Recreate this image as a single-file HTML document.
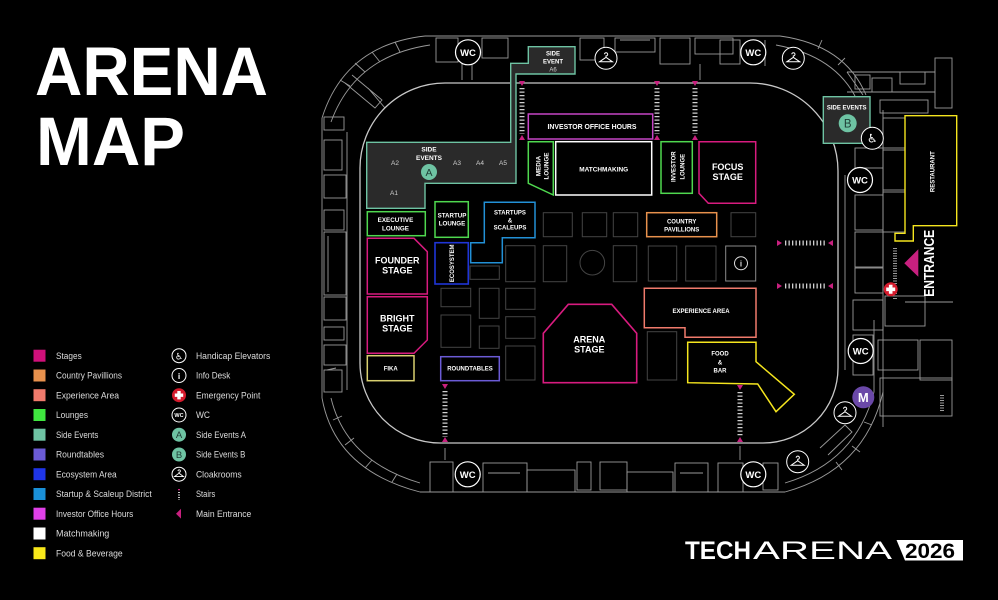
<!DOCTYPE html>
<html><head><meta charset="utf-8"><style>
html,body{margin:0;padding:0;background:#000;}
svg{display:block;}
text{font-family:"Liberation Sans",Arial,sans-serif;}
</style></head><body>
<svg width="998" height="600" viewBox="0 0 998 600" xmlns="http://www.w3.org/2000/svg">
<rect width="998" height="600" fill="#000"/>

<!-- Title -->
<text x="35" y="95" font-size="69" font-weight="bold" fill="#fff" textLength="233" lengthAdjust="spacingAndGlyphs">ARENA</text>
<text x="36" y="165" font-size="69" font-weight="bold" fill="#fff" textLength="149" lengthAdjust="spacingAndGlyphs">MAP</text>

<!-- Architecture -->
<g stroke="#9a9a9a" stroke-width="0.9" fill="none">
  <!-- outer ring -->
  <path d="M 425 36 L 780 36"/>
  <path d="M 425 36 Q 345 45 322 118"/>
  <path d="M 430 45 Q 355 56 331 122"/>
  <path d="M 322 118 L 322 398"/>
  <path d="M 347 132 L 347 390"/>
  <path d="M 322 398 Q 335 470 420 492"/>
  <path d="M 331 398 Q 346 461 420 483"/>
  <path d="M 420 492 L 785 492"/>
  <path d="M 785 492 Q 865 470 883 392"/>
  <path d="M 785 483 Q 856 462 874 392"/>
  <path d="M 780 36 Q 845 45 866 95"/>
  <path d="M 776 45 Q 836 56 857 100"/>
  <path d="M 845 175 L 845 370"/>
  <path d="M 874 392 L 874 320"/>
  <!-- ticks on arcs -->
  <path d="M 340 80 L 350 86 M 355 63 L 365 72 M 372 52 L 380 62 M 395 42 L 400 52 M 327 370 L 336 368 M 333 420 L 342 416 M 345 445 L 354 438 M 365 468 L 372 460 M 392 482 L 397 474 M 842 470 L 836 462 M 860 452 L 852 446 M 872 425 L 864 422 M 822 40 L 818 49 M 845 58 L 838 65"/>
  <path d="M 352 75 L 382 100 L 375 108 L 345 83 M 368 88 L 385 108"/>
  <path d="M 820 448 L 845 425 L 852 432 L 828 455"/>
  <!-- left band rooms -->
  <rect x="324" y="117" width="20" height="13"/>
  <rect x="324" y="140" width="18" height="30"/>
  <rect x="324" y="175" width="22" height="23"/>
  <rect x="324" y="210" width="20" height="20"/>
  <rect x="324" y="232" width="22" height="63"/>
  <path d="M 328 236 L 328 292"/>
  <rect x="324" y="297" width="22" height="23"/>
  <rect x="324" y="327" width="20" height="13"/>
  <rect x="324" y="345" width="22" height="20"/>
  <rect x="324" y="370" width="18" height="22"/>
  <!-- top band rooms -->
  <rect x="436" y="38" width="22" height="24"/>
  <rect x="482" y="38" width="26" height="20"/>
  <path d="M 462 60 L 462 80 M 472 62 L 472 80"/>
  <rect x="580" y="38" width="24" height="22"/>
  <rect x="615" y="38" width="40" height="14"/>
  <path d="M 620 40 L 650 40"/>
  <rect x="660" y="38" width="30" height="26"/>
  <rect x="695" y="38" width="38" height="16"/>
  <rect x="720" y="40" width="20" height="24"/>
  <path d="M 700 64 L 700 80 M 765 40 L 765 66"/>
  <!-- bottom band rooms -->
  <rect x="430" y="462" width="23" height="30"/>
  <path d="M 445 448 L 445 460"/>
  <rect x="483" y="463" width="44" height="29"/>
  <path d="M 488 473 L 520 473"/>
  <rect x="527" y="470" width="48" height="22"/>
  <rect x="577" y="462" width="14" height="28"/>
  <rect x="600" y="462" width="27" height="28"/>
  <rect x="627" y="472" width="46" height="20"/>
  <rect x="675" y="463" width="33" height="29"/>
  <path d="M 680 473 L 703 473"/>
  <rect x="718" y="463" width="25" height="29"/>
  <rect x="763" y="463" width="15" height="27"/>
  <path d="M 740 446 L 740 460"/>
  <!-- right building -->
  <path d="M 847 72 L 935 72 M 847 92 L 935 92 M 847 72 L 863 95"/>
  <rect x="855" y="75" width="15" height="14"/>
  <rect x="872" y="78" width="20" height="14"/>
  <rect x="900" y="72" width="25" height="12"/>
  <rect x="935" y="58" width="17" height="50"/>
  <rect x="880" y="100" width="48" height="13"/>
  <path d="M 883 110 L 883 427"/>
  <rect x="855" y="148" width="28" height="20"/>
  <rect x="855" y="195" width="28" height="35"/>
  <rect x="855" y="232" width="28" height="35"/>
  <rect x="855" y="268" width="28" height="25"/>
  <rect x="883" y="118" width="22" height="30"/>
  <rect x="883" y="150" width="22" height="40"/>
  <rect x="883" y="192" width="22" height="40"/>
  <path d="M 895 248 L 895 300" stroke-dasharray="1 1.5" stroke-width="4"/>
  <rect x="853" y="300" width="30" height="30"/>
  <rect x="885" y="296" width="40" height="30"/>
  <path d="M 905 302 L 953 302"/>
  <rect x="853" y="335" width="20" height="40"/>
  <rect x="878" y="340" width="40" height="30"/>
  <rect x="920" y="340" width="32" height="40"/>
  <rect x="880" y="378" width="72" height="38"/>
  <path d="M 942 395 L 942 412" stroke-dasharray="1 1.5" stroke-width="4"/>
</g>

<!-- Inner arena boundary -->
<path d="M 450 83 L 750 83 A 88 88 0 0 1 838 171 L 838 368 A 75 75 0 0 1 763 443 L 440 443 A 80 80 0 0 1 360 363 L 360 168 A 85 85 0 0 1 445 83 Z" fill="none" stroke="#c8c8c8" stroke-width="1.3"/>

<!-- Empty gray boxes -->
<g fill="none" stroke="#444" stroke-width="1">
  <rect x="543.3" y="212.7" width="29" height="24"/>
  <rect x="582.3" y="212.7" width="24.4" height="24"/>
  <rect x="613.3" y="212.7" width="24.4" height="24"/>
  <rect x="731" y="212.7" width="24.7" height="24"/>
  <rect x="470" y="266" width="29.3" height="13.3"/>
  <rect x="505.7" y="245.7" width="29.3" height="36"/>
  <rect x="543.3" y="245.7" width="23.4" height="36"/>
  <circle cx="592.3" cy="262.7" r="12.3"/>
  <rect x="613.3" y="245.7" width="23.4" height="36"/>
  <rect x="648.3" y="246" width="28.4" height="35"/>
  <rect x="685.7" y="246" width="30.3" height="35"/>
  <rect x="441" y="288.3" width="29.7" height="18.4"/>
  <rect x="479.3" y="288.3" width="19.7" height="30"/>
  <rect x="505.7" y="288.3" width="29.3" height="21"/>
  <rect x="441" y="315" width="29.7" height="32.3"/>
  <rect x="479.3" y="326" width="19.7" height="22.3"/>
  <rect x="505.7" y="316.7" width="29.3" height="21.6"/>
  <rect x="505.7" y="346" width="29.3" height="34"/>
  <rect x="647.3" y="331.7" width="29.4" height="48.3"/>
</g>
<rect x="725.7" y="246" width="30" height="35" fill="none" stroke="#8a8a8a" stroke-width="1"/>
<circle cx="741" cy="263.3" r="6.5" fill="none" stroke="#ddd" stroke-width="1"/>
<text x="741" y="266.5" text-anchor="middle" font-size="8" font-weight="bold" fill="#ddd">i</text>

<!-- Side Events A -->
<polygon points="366.7,142.3 510.7,142.3 510.7,63.3 528.3,63.3 528.3,46.7 575,46.7 575,74 516,74 516,183.3 425,183.3 425,208.3 366.7,208.3" fill="#2a2a2a" stroke="#6ec3a3" stroke-width="1.4"/>
<g font-weight="bold" fill="#fff" font-size="6" text-anchor="middle">
  <text x="553" y="55.5">SIDE</text>
  <text x="553" y="63.5">EVENT</text>
  <text x="429" y="151.5" font-size="6.5">SIDE</text>
  <text x="429" y="160" font-size="6.5">EVENTS</text>
</g>
<g fill="#cfcfcf" font-size="6.5" text-anchor="middle">
  <text x="553" y="71.5" font-size="6">A6</text>
  <text x="395" y="165">A2</text>
  <text x="394" y="195">A1</text>
  <text x="457" y="165">A3</text>
  <text x="480" y="165">A4</text>
  <text x="503" y="165">A5</text>
</g>
<circle cx="429" cy="172" r="8" fill="#6ec3a3"/>
<text x="429" y="175.8" text-anchor="middle" font-size="10.5" fill="#1f3d35">A</text>

<!-- Investor office hours -->
<rect x="528.3" y="114" width="124.4" height="25" fill="none" stroke="#c646c6" stroke-width="1.5"/>
<text x="592" y="129" text-anchor="middle" font-size="7.5" font-weight="bold" fill="#fff" textLength="89" lengthAdjust="spacingAndGlyphs">INVESTOR OFFICE HOURS</text>

<!-- Matchmaking -->
<rect x="555.7" y="141.7" width="96" height="53.3" fill="none" stroke="#fff" stroke-width="1.5"/>
<text x="603.7" y="171.5" text-anchor="middle" font-size="6.5" font-weight="bold" fill="#fff" textLength="49" lengthAdjust="spacingAndGlyphs">MATCHMAKING</text>

<!-- Media lounge -->
<polygon points="528.3,141.7 553.3,141.7 553.3,195 528.3,183.3" fill="none" stroke="#4fd84f" stroke-width="1.5"/>
<g font-weight="bold" fill="#fff" font-size="6.3" text-anchor="middle">
  <text transform="translate(538.5,166) rotate(-90)" y="2.2">MEDIA</text>
  <text transform="translate(546.5,166) rotate(-90)" y="2.2">LOUNGE</text>
</g>

<!-- Investor lounge -->
<rect x="661" y="141.7" width="31.3" height="51.6" fill="none" stroke="#4fd84f" stroke-width="1.5"/>
<g font-weight="bold" fill="#fff" font-size="6" text-anchor="middle">
  <text transform="translate(673.3,166.7) rotate(-90)" y="2.2">INVESTOR</text>
  <text transform="translate(682.3,166.7) rotate(-90)" y="2.2">LOUNGE</text>
</g>

<!-- Focus stage -->
<polygon points="699,141.7 755.7,141.7 755.7,203.3 708.3,203.3 699,193.3" fill="none" stroke="#d81b7f" stroke-width="1.5"/>
<g font-weight="bold" fill="#fff" font-size="9" text-anchor="middle">
  <text x="727.7" y="170">FOCUS</text>
  <text x="727.7" y="180">STAGE</text>
</g>

<!-- Country pavillions -->
<rect x="646.7" y="212.7" width="70" height="24" fill="none" stroke="#e8914d" stroke-width="1.5"/>
<g font-weight="bold" fill="#fff" font-size="6" text-anchor="middle">
  <text x="681.7" y="223.5">COUNTRY</text>
  <text x="681.7" y="231.5">PAVILLIONS</text>
</g>

<!-- Executive lounge -->
<rect x="367.3" y="211.7" width="58" height="24" fill="none" stroke="#4fd84f" stroke-width="1.5"/>
<g font-weight="bold" fill="#fff" font-size="6.3" text-anchor="middle">
  <text x="395.5" y="222">EXECUTIVE</text>
  <text x="395.5" y="230.5">LOUNGE</text>
</g>

<!-- Startup lounge -->
<rect x="435" y="201.7" width="33.3" height="35.6" fill="none" stroke="#4fd84f" stroke-width="1.5"/>
<g font-weight="bold" fill="#fff" font-size="6.2" text-anchor="middle">
  <text x="452" y="217.5">STARTUP</text>
  <text x="452" y="225.5">LOUNGE</text>
</g>

<!-- Startups & scaleups -->
<polygon points="484.3,202.3 535,202.3 535,237.7 502.3,237.7 502.3,262.7 470.7,262.7 470.7,242.7 484.3,242.7" fill="none" stroke="#2290d6" stroke-width="1.5"/>
<g font-weight="bold" fill="#fff" font-size="6" text-anchor="middle">
  <text x="510" y="214.5">STARTUPS</text>
  <text x="510" y="222.3">&amp;</text>
  <text x="510" y="229.3">SCALEUPS</text>
</g>

<!-- Ecosystem -->
<rect x="435" y="242.7" width="33.3" height="41.3" fill="none" stroke="#1f35d6" stroke-width="1.6"/>
<text transform="translate(452,263.3) rotate(-90)" y="2.2" text-anchor="middle" font-size="6" font-weight="bold" fill="#fff">ECOSYSTEM</text>

<!-- Founder stage -->
<polygon points="367.3,238.3 414,238.3 427.3,251.7 427.3,294 367.3,294" fill="none" stroke="#d81b7f" stroke-width="1.5"/>
<!-- Bright stage -->
<polygon points="367.3,296.7 427.3,296.7 427.3,340 414,353.3 367.3,353.3" fill="none" stroke="#d81b7f" stroke-width="1.5"/>
<g font-weight="bold" fill="#fff" font-size="9" text-anchor="middle">
  <text x="397.3" y="263.7">FOUNDER</text>
  <text x="397.3" y="273.7">STAGE</text>
  <text x="397.3" y="321.7">BRIGHT</text>
  <text x="397.3" y="331.7">STAGE</text>
</g>

<!-- Fika -->
<rect x="367.3" y="355.7" width="46.7" height="25" fill="none" stroke="#d9d070" stroke-width="1.5"/>
<text x="390.7" y="370.3" text-anchor="middle" font-size="6" font-weight="bold" fill="#fff">FIKA</text>

<!-- Roundtables -->
<rect x="440.7" y="356.7" width="58.6" height="24" fill="none" stroke="#6b5bd6" stroke-width="1.5"/>
<text x="470" y="370.7" text-anchor="middle" font-size="6" font-weight="bold" fill="#fff">ROUNDTABLES</text>

<!-- Arena stage -->
<polygon points="568.3,304.3 611.7,304.3 636.7,333.3 636.7,382.7 543.3,382.7 543.3,333.3" fill="none" stroke="#d81b7f" stroke-width="1.6"/>
<g font-weight="bold" fill="#fff" font-size="9" text-anchor="middle">
  <text x="589.3" y="342.5">ARENA</text>
  <text x="589.3" y="352.5">STAGE</text>
</g>

<!-- Experience area -->
<polygon points="644.3,288.3 756,288.3 756,337.3 685,337.3 685,327.7 644.3,327.7" fill="none" stroke="#f07a6c" stroke-width="1.5"/>
<text x="701" y="313" text-anchor="middle" font-size="6" font-weight="bold" fill="#fff">EXPERIENCE AREA</text>

<!-- Food & bar -->
<polygon points="687.7,342.3 756,342.3 756,361.7 794.3,394.3 776,411.7 757.7,384 687.7,382.7" fill="none" stroke="#f5e51e" stroke-width="1.5"/>
<g font-weight="bold" fill="#fff" font-size="6" text-anchor="middle">
  <text x="720" y="355.5">FOOD</text>
  <text x="720" y="364.3">&amp;</text>
  <text x="720" y="372.5">BAR</text>
</g>

<!-- Side Events B -->
<rect x="823.3" y="96.7" width="46.7" height="46.6" fill="#2a2a2a" stroke="#6ec3a3" stroke-width="1.4"/>
<text x="846.7" y="109.5" text-anchor="middle" font-size="6" font-weight="bold" fill="#fff">SIDE EVENTS</text>
<circle cx="847.7" cy="123.3" r="9" fill="#6ec3a3"/>
<text x="847.7" y="127.5" text-anchor="middle" font-size="11.5" fill="#1f3d35">B</text>

<!-- Restaurant -->
<polygon points="905,115.7 956.7,115.7 956.7,225.7 913.3,225.7 913.3,241 895,241 895,233.3 905,233.3" fill="#000" stroke="#f5e51e" stroke-width="1.4"/>
<text transform="translate(932.7,171.7) rotate(-90)" y="2" text-anchor="middle" font-size="6" font-weight="bold" fill="#fff">RESTAURANT</text>

<!-- Entrance -->
<text transform="translate(928.3,263.3) rotate(-90)" y="5.5" text-anchor="middle" font-size="15" font-weight="bold" fill="#fff" textLength="67" lengthAdjust="spacingAndGlyphs">ENTRANCE</text>
<polygon points="918.3,249.3 918.3,276.7 904.3,263.3" fill="#c8207f"/>

<!-- Stairs -->
<g stroke="#cfcfcf" stroke-width="5" stroke-dasharray="1.3 2.2" fill="none">
  <path d="M 522 88 L 522 134"/>
  <path d="M 657 88 L 657 134"/>
  <path d="M 695 88 L 695 134"/>
  <path d="M 445 391 L 445 437"/>
  <path d="M 740 392 L 740 437"/>
  <path d="M 785 243 L 826 243"/>
  <path d="M 785 286 L 826 286"/>
</g>
<g fill="#c8207f">
  <polygon points="519,81 525,81 522,86"/>
  <polygon points="519,140 525,140 522,135"/>
  <polygon points="654,81 660,81 657,86"/>
  <polygon points="654,140 660,140 657,135"/>
  <polygon points="692,81 698,81 695,86"/>
  <polygon points="692,140 698,140 695,135"/>
  <polygon points="442,384 448,384 445,389"/>
  <polygon points="442,442 448,442 445,437"/>
  <polygon points="737,385 743,385 740,390"/>
  <polygon points="737,442 743,442 740,437"/>
  <polygon points="777,240 777,246 782,243"/>
  <polygon points="833,240 833,246 828,243"/>
  <polygon points="777,283 777,289 782,286"/>
  <polygon points="833,283 833,289 828,286"/>
</g>

<!-- WC circles -->
<g fill="#000" stroke="#fff" stroke-width="1.2">
  <circle cx="468" cy="52.3" r="12.5"/>
  <circle cx="753.3" cy="52.3" r="12.5"/>
  <circle cx="860" cy="180" r="12.5"/>
  <circle cx="860.7" cy="351" r="12.5"/>
  <circle cx="753.3" cy="474.3" r="12.5"/>
  <circle cx="467.7" cy="474.3" r="12.5"/>
</g>
<g font-weight="bold" fill="#fff" font-size="9.5" text-anchor="middle">
  <text x="468" y="55.8">WC</text>
  <text x="753.3" y="55.8">WC</text>
  <text x="860" y="183.5">WC</text>
  <text x="860.7" y="354.5">WC</text>
  <text x="753.3" y="477.8">WC</text>
  <text x="467.7" y="477.8">WC</text>
</g>

<!-- Hangers -->
<g fill="#000" stroke="#fff" stroke-width="1">
  <circle cx="606" cy="58.3" r="11"/>
  <circle cx="793.3" cy="58.3" r="11"/>
  <circle cx="845" cy="412.7" r="11"/>
  <circle cx="797.7" cy="461.7" r="11"/>
</g>
<g fill="none" stroke="#fff" stroke-width="1">
  <path d="M 604.5 54.3 a 1.6 1.6 0 1 1 1.5 1.6 v 1.4 M 606 57.3 L 599.5 61.8 L 612.5 61.8 Z"/>
  <path d="M 791.8 54.3 a 1.6 1.6 0 1 1 1.5 1.6 v 1.4 M 793.3 57.3 L 786.8 61.8 L 799.8 61.8 Z"/>
  <path d="M 843.5 408.7 a 1.6 1.6 0 1 1 1.5 1.6 v 1.4 M 845 411.7 L 838.5 416.2 L 851.5 416.2 Z"/>
  <path d="M 796.2 457.7 a 1.6 1.6 0 1 1 1.5 1.6 v 1.4 M 797.7 460.7 L 791.2 465.2 L 804.2 465.2 Z"/>
</g>

<!-- Handicap -->
<circle cx="872.3" cy="138.3" r="11" fill="#000" stroke="#fff" stroke-width="1"/>
<text x="872.3" y="142.5" text-anchor="middle" font-size="12" fill="#fff" style="font-family:'DejaVu Sans',sans-serif">♿</text>

<!-- Emergency -->
<circle cx="890.7" cy="289.3" r="7" fill="#d41a2c"/>
<path d="M 888.9 284.8 h 3.6 v 2.7 h 2.7 v 3.6 h -2.7 v 2.7 h -3.6 v -2.7 h -2.7 v -3.6 h 2.7 Z" fill="#fff"/>

<!-- Metro -->
<circle cx="863.3" cy="397.3" r="11" fill="#6a48a8"/>
<text x="863.3" y="402" text-anchor="middle" font-size="13" font-weight="bold" fill="#fff">M</text>

<!-- Legend column 1 -->
<g>
  <rect x="33.5" y="349.7" width="12" height="12" fill="#d0107a"/>
  <rect x="33.5" y="369.5" width="12" height="12" fill="#e8914d"/>
  <rect x="33.5" y="389.2" width="12" height="12" fill="#f07a6c"/>
  <rect x="33.5" y="409" width="12" height="12" fill="#3fe63f"/>
  <rect x="33.5" y="428.7" width="12" height="12" fill="#6ec3a3"/>
  <rect x="33.5" y="448.5" width="12" height="12" fill="#6b5bd6"/>
  <rect x="33.5" y="468.2" width="12" height="12" fill="#1f35e8"/>
  <rect x="33.5" y="488" width="12" height="12" fill="#1a90d8"/>
  <rect x="33.5" y="507.7" width="12" height="12" fill="#e040e8"/>
  <rect x="33.5" y="527.5" width="12" height="12" fill="#ffffff"/>
  <rect x="33.5" y="547.2" width="12" height="12" fill="#f8e81a"/>
</g>
<g fill="#dcdcdc" font-size="9">
  <text x="56" y="358.9" textLength="25.7" lengthAdjust="spacingAndGlyphs">Stages</text>
  <text x="56" y="378.7" textLength="66" lengthAdjust="spacingAndGlyphs">Country Pavillions</text>
  <text x="56" y="398.4" textLength="63" lengthAdjust="spacingAndGlyphs">Experience Area</text>
  <text x="56" y="418.2" textLength="32" lengthAdjust="spacingAndGlyphs">Lounges</text>
  <text x="56" y="437.9" textLength="42.3" lengthAdjust="spacingAndGlyphs">Side Events</text>
  <text x="56" y="457.7" textLength="48" lengthAdjust="spacingAndGlyphs">Roundtables</text>
  <text x="56" y="477.4" textLength="60.7" lengthAdjust="spacingAndGlyphs">Ecosystem Area</text>
  <text x="56" y="497.2" textLength="95.7" lengthAdjust="spacingAndGlyphs">Startup &amp; Scaleup District</text>
  <text x="56" y="516.9" textLength="77.3" lengthAdjust="spacingAndGlyphs">Investor Office Hours</text>
  <text x="56" y="536.7" textLength="53.3" lengthAdjust="spacingAndGlyphs">Matchmaking</text>
  <text x="56" y="556.4" textLength="66.7" lengthAdjust="spacingAndGlyphs">Food &amp; Beverage</text>
</g>

<!-- Legend column 2 icons -->
<circle cx="179" cy="355.7" r="7" fill="#000" stroke="#fff" stroke-width="1"/>
<text x="179" y="359.3" text-anchor="middle" font-size="9" fill="#fff" style="font-family:'DejaVu Sans',sans-serif">♿</text>
<circle cx="179" cy="375.5" r="7" fill="#000" stroke="#fff" stroke-width="1"/>
<text x="179" y="378.8" text-anchor="middle" font-size="8.5" font-weight="bold" fill="#fff">i</text>
<circle cx="179" cy="395.2" r="7" fill="#d41a2c"/>
<path d="M 177.3 391 h 3.4 v 2.5 h 2.5 v 3.4 h -2.5 v 2.5 h -3.4 v -2.5 h -2.5 v -3.4 h 2.5 Z" fill="#fff"/>
<circle cx="179" cy="415" r="7" fill="#000" stroke="#fff" stroke-width="1"/>
<text x="179" y="417.2" text-anchor="middle" font-size="5.5" font-weight="bold" fill="#fff">WC</text>
<circle cx="179" cy="434.7" r="7" fill="#6ec3a3"/>
<text x="179" y="438.2" text-anchor="middle" font-size="9.5" fill="#1f3d35">A</text>
<circle cx="179" cy="454.5" r="7" fill="#6ec3a3"/>
<text x="179" y="458" text-anchor="middle" font-size="9.5" fill="#1f3d35">B</text>
<circle cx="179" cy="474.2" r="7" fill="#000" stroke="#fff" stroke-width="1"/>
<path d="M 178 471 a 1.2 1.2 0 1 1 1 1.2 v 1 M 179 473.2 L 174.5 476.6 L 183.5 476.6 Z" fill="none" stroke="#fff" stroke-width="0.9"/>
<path d="M 179 489 L 179 490.3" stroke="#c8207f" stroke-width="2"/>
<path d="M 179 492 L 179 500" stroke="#cfcfcf" stroke-width="2" stroke-dasharray="1 1.5"/>
<polygon points="176,513.7 181,508.8 181,518.6" fill="#c8207f"/>
<g fill="#dcdcdc" font-size="9">
  <text x="196" y="358.9" textLength="74.3" lengthAdjust="spacingAndGlyphs">Handicap Elevators</text>
  <text x="196" y="378.7" textLength="34.3" lengthAdjust="spacingAndGlyphs">Info Desk</text>
  <text x="196" y="398.4" textLength="64.3" lengthAdjust="spacingAndGlyphs">Emergency Point</text>
  <text x="196" y="418.2" textLength="14" lengthAdjust="spacingAndGlyphs">WC</text>
  <text x="196" y="437.9" textLength="50" lengthAdjust="spacingAndGlyphs">Side Events A</text>
  <text x="196" y="457.7" textLength="49.3" lengthAdjust="spacingAndGlyphs">Side Events B</text>
  <text x="196" y="477.4" textLength="45.7" lengthAdjust="spacingAndGlyphs">Cloakrooms</text>
  <text x="196" y="497.2" textLength="19.3" lengthAdjust="spacingAndGlyphs">Stairs</text>
  <text x="196" y="516.9" textLength="55.3" lengthAdjust="spacingAndGlyphs">Main Entrance</text>
</g>

<!-- Logo -->
<text x="685" y="559" font-size="25" font-weight="bold" fill="#fff" textLength="66" lengthAdjust="spacingAndGlyphs">TECH</text>
<text x="753" y="559" font-size="25" fill="#fff" textLength="139" lengthAdjust="spacingAndGlyphs">ARENA</text>
<polygon points="896.5,540 963,540 963,560.5 905,560.5" fill="#fff"/>
<text x="930" y="558" text-anchor="middle" font-size="21" font-weight="bold" fill="#000" textLength="50" lengthAdjust="spacingAndGlyphs">2026</text>
</svg>
</body></html>
